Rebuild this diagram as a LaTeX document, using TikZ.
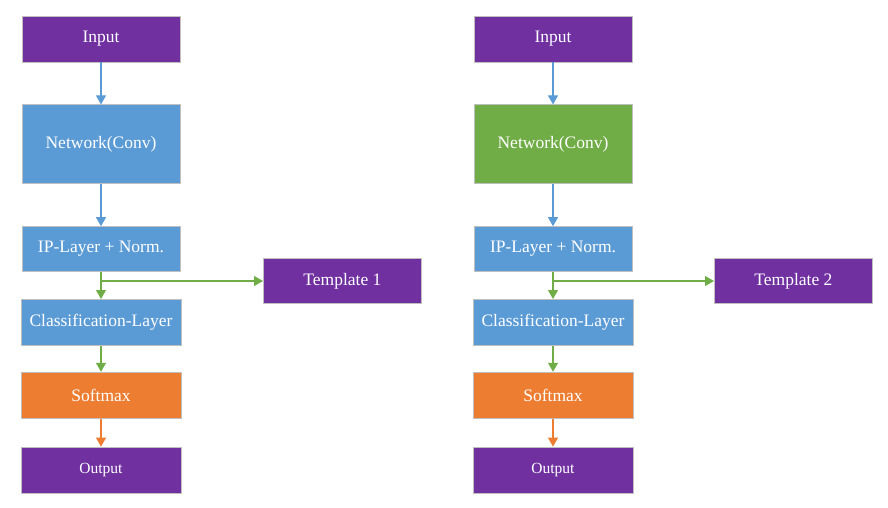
\documentclass[tikz,border=0pt]{standalone}
\usepackage{fontspec}
\setmainfont{Liberation Serif}
\usetikzlibrary{positioning, arrows.meta}

\definecolor{boxpurple}{HTML}{7030A0}
\definecolor{boxblue}{HTML}{5B9BD5}
\definecolor{boxgreen}{HTML}{70AD47}
\definecolor{boxorange}{HTML}{ED7D31}
\definecolor{boxedge}{HTML}{BFBFBF}

\begin{document}
\begin{tikzpicture}[x=1pt, y=1pt, >={Triangle[width=10pt, length=9pt]},
  stage/.style={draw=boxedge, line width=0.8pt, text=white, minimum width=158pt, minimum height=46pt, align=center, font=\fontsize{17.5}{20}\selectfont},
  io/.style={stage, fill=boxpurple},
  layer/.style={stage, fill=boxblue},
  conv/.style={stage, fill=boxgreen, minimum height=79pt},
  soft/.style={stage, fill=boxorange},
  flow/.style={->, line width=1.2pt}]
  \useasboundingbox (0,0) rectangle (888,-508);

  % Left pipeline: plain network, template branches off after the IP layer.
  \node[io] (in1) at (101,-39) {Input};
  \node[layer, minimum height=79pt, below=42pt of in1] (net1) {Network(Conv)};
  \node[layer, minimum height=45pt, below=42pt of net1] (ip1) {IP-Layer + Norm.};
  \node[layer, minimum width=160pt, below=27pt of ip1] (cls1) {Classification-Layer};
  \node[soft, minimum width=160pt, below=26pt of cls1] (soft1) {Softmax};
  \node[io, minimum width=160pt, below=28pt of soft1, font=\fontsize{15.5}{18}\selectfont] (out1) {Output};
  \coordinate (split1) at ([yshift=-9pt]ip1.south);
  \node[io, minimum height=45pt, right=162pt of split1] (tpl1) {Template 1};

  \draw[flow, draw=boxblue] (in1) -- (net1);
  \draw[flow, draw=boxblue] (net1) -- (ip1);
  \draw[flow, draw=boxgreen] (ip1) -- (cls1);
  \draw[flow, draw=boxgreen] (split1) -- (tpl1);
  \draw[flow, draw=boxgreen] (cls1) -- (soft1);
  \draw[flow, draw=boxorange] (soft1) -- (out1);

  % Right pipeline: same chain, green network.
  \node[io] (in2) at (553,-39) {Input};
  \node[conv, below=42pt of in2] (net2) {Network(Conv)};
  \node[layer, minimum height=45pt, below=42pt of net2] (ip2) {IP-Layer + Norm.};
  \node[layer, minimum width=160pt, below=27pt of ip2] (cls2) {Classification-Layer};
  \node[soft, minimum width=160pt, below=26pt of cls2] (soft2) {Softmax};
  \node[io, minimum width=160pt, below=28pt of soft2, font=\fontsize{15.5}{18}\selectfont] (out2) {Output};
  \coordinate (split2) at ([yshift=-9pt]ip2.south);
  \node[io, minimum height=45pt, right=161pt of split2] (tpl2) {Template 2};

  \draw[flow, draw=boxblue] (in2) -- (net2);
  \draw[flow, draw=boxblue] (net2) -- (ip2);
  \draw[flow, draw=boxgreen] (ip2) -- (cls2);
  \draw[flow, draw=boxgreen] (split2) -- (tpl2);
  \draw[flow, draw=boxgreen] (cls2) -- (soft2);
  \draw[flow, draw=boxorange] (soft2) -- (out2);
\end{tikzpicture}
\end{document}
